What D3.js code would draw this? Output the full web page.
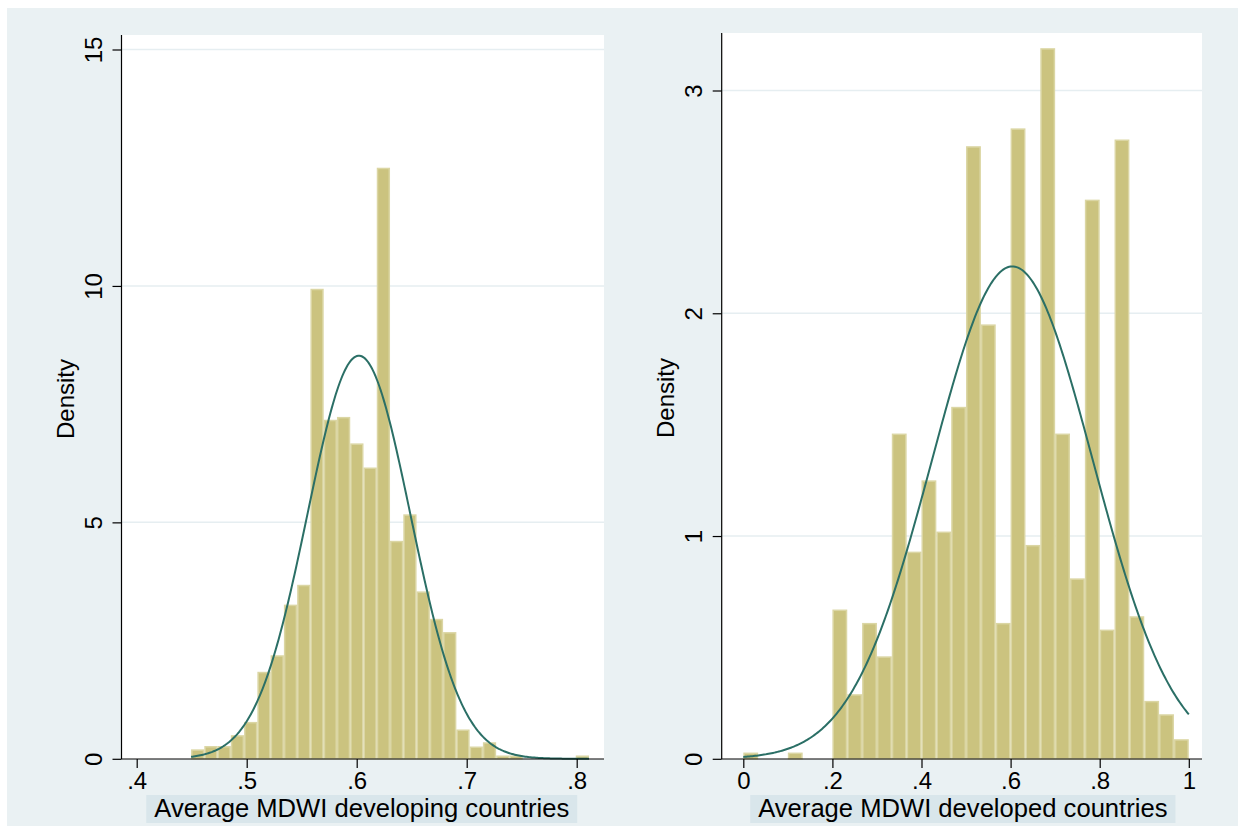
<!DOCTYPE html>
<html lang="en">
	<head>
		<meta charset="utf-8">
		<style type="text/css">
			html, body {
				width: 100%;
				height: 100%;
				padding: 0;
				margin: 0;
				background: #ffffff;
			}
			text {
				font-family: "Liberation Sans", Arial, Helvetica, sans-serif;
				fill: #000;
			}
		</style>
	</head>
	<body>
		<svg id="chart"></svg>
	<script src="https://cdn.jsdelivr.net/npm/d3@7"></script>
	<script>
		const width = 1245
		const height = 834

		// developing countries: 30 bins starting at .4494, width .01206
		const devBinStart = 0.4494
		const devBinWidth = 0.01206
		const devDensity = [0.20, 0.27, 0.27, 0.50, 0.78, 1.84, 2.19, 3.26, 3.68, 9.94,
			7.17, 7.23, 6.67, 6.16, 12.50, 4.61, 5.17, 3.54, 2.96, 2.68,
			0.62, 0.26, 0.35, 0.07, 0.07, 0, 0, 0, 0, 0.07]
		const devMean = 0.602
		const devSd = 0.0468
		const devXTicks = [0.4, 0.5, 0.6, 0.7, 0.8]
		const devYTicks = [0, 5, 10, 15]

		// developed countries: 30 bins of 1/30 from 0 to 1
		const dvdBinStart = 0
		const dvdBinWidth = 1 / 30
		const dvdDensity = [0.028, 0, 0, 0.028, 0, 0, 0.67, 0.29, 0.61, 0.46,
			1.46, 0.93, 1.25, 1.02, 1.58, 2.75, 1.95, 0.61, 2.83, 0.96,
			3.19, 1.46, 0.81, 2.51, 0.58, 2.78, 0.64, 0.26, 0.20, 0.088]
		const dvdMean = 0.604
		const dvdSd = 0.1805
		const dvdXTicks = [0, 0.2, 0.4, 0.6, 0.8, 1]
		const dvdYTicks = [0, 1, 2, 3]

		const bg = "#eaf1f3"
		const barFill = "#cbc37f"
		const barEdge = "#dbd6a4"
		const curveColor = "#2b6f66"

		const svg = d3.select("#chart")
			.attr("width", width)
			.attr("height", height)

		svg.append("rect")
			.attr("x", 7).attr("y", 8)
			.attr("width", width - 14).attr("height", height - 16)
			.attr("fill", bg)

		const fmt = v => v === 0 ? "0" : v === 1 ? "1" : String(v).replace(/^0/, "")

		function panel (p) {
			const x = d3.scaleLinear().domain(p.xDomain).range(p.xRange)
			const y = d3.scaleLinear().domain(p.yDomain).range(p.yRange)
			const g = svg.append("g")

			// plot region
			g.append("rect")
				.attr("x", p.left).attr("y", p.top)
				.attr("width", p.right - p.left).attr("height", p.bottom - p.top)
				.attr("fill", "#ffffff")

			// grid lines
			g.selectAll(".grid")
				.data(p.yTicks.filter(t => t > 0))
			.enter().append("line")
				.attr("x1", p.left).attr("x2", p.right)
				.attr("y1", d => y(d)).attr("y2", d => y(d))
				.attr("stroke", "#e6eef1")
				.attr("stroke-width", 1.5)

			// bars
			const bins = p.density.map((d, i) => ({
				x0: p.binStart + i * p.binWidth,
				x1: p.binStart + (i + 1) * p.binWidth,
				d: d
			})).filter(b => b.d > 0)

			g.selectAll(".bar")
				.data(bins)
			.enter().append("rect")
				.attr("x", b => x(b.x0) + 0.75)
				.attr("y", b => y(b.d) + 0.75)
				.attr("width", b => x(b.x1) - x(b.x0) - 1.5)
				.attr("height", b => Math.max(0, y(0) - y(b.d) - 0.75))
				.attr("fill", barFill)
				.attr("stroke", barEdge)
				.attr("stroke-width", 1.5)

			// normal density curve
			const lo = p.binStart
			const hi = p.binStart + p.density.length * p.binWidth
			const pts = d3.range(0, 301).map(i => lo + (hi - lo) * i / 300)
			const pdf = v => Math.exp(-0.5 * Math.pow((v - p.mean) / p.sd, 2)) / (p.sd * Math.sqrt(2 * Math.PI))
			g.append("path")
				.datum(pts)
				.attr("fill", "none")
				.attr("stroke", curveColor)
				.attr("stroke-width", 2)
				.attr("d", d3.line().x(v => x(v)).y(v => y(pdf(v))))

			// axes
			const xAxis = g.append("g")
				.attr("transform", `translate(0, ${p.bottom})`)
				.call(d3.axisBottom(x).tickValues(p.xTicks).tickFormat(fmt).tickSize(9).tickPadding(4))
			xAxis.select(".domain").remove()
			xAxis.selectAll("line").attr("stroke", "#000").attr("stroke-width", 1.2)
			xAxis.selectAll("text").attr("font-size", 24).attr("font-family", "Liberation Sans, Arial, sans-serif")

			g.append("line")
				.attr("x1", p.left).attr("x2", p.right)
				.attr("y1", p.bottom).attr("y2", p.bottom)
				.attr("stroke", "#000").attr("stroke-width", 1.2)

			const yAxis = g.append("g")
				.attr("transform", `translate(${p.left}, 0)`)
				.call(d3.axisLeft(y).tickValues(p.yTicks).tickSize(9).tickFormat(fmt))
			yAxis.select(".domain").remove()
			yAxis.selectAll("line").attr("stroke", "#000").attr("stroke-width", 1.2)
			yAxis.selectAll("text")
				.attr("font-size", 24)
				.attr("font-family", "Liberation Sans, Arial, sans-serif")
				.attr("text-anchor", "middle")
				.attr("x", null).attr("dy", null)
				.attr("transform", "translate(-20, 0) rotate(-90)")

			g.append("line")
				.attr("x1", p.left).attr("x2", p.left)
				.attr("y1", p.top).attr("y2", p.bottom)
				.attr("stroke", "#000").attr("stroke-width", 1.2)

			// y title
			g.append("text")
				.attr("transform", `translate(${p.left - 48}, ${(p.top + p.bottom) / 2 + 2}) rotate(-90)`)
				.attr("text-anchor", "middle")
				.attr("font-size", 24)
				.text("Density")

			// x title with box
			const tx = (p.left + p.right) / 2 + p.titleShift
			const box = g.append("rect")
			const t = g.append("text")
				.attr("x", tx).attr("y", 817)
				.attr("text-anchor", "middle")
				.attr("font-size", 25.6)
				.text(p.xTitle)
			const bb = t.node().getBBox()
			box.attr("x", bb.x - 8).attr("y", 795)
				.attr("width", bb.width + 16).attr("height", 28)
				.attr("fill", "#d9e6eb")
		}

		panel({
			left: 121.5, right: 604, top: 35, bottom: 759,
			xDomain: [0.4, 0.8], xRange: [136.7, 576.7],
			yDomain: [0, 15], yRange: [758.8, 49.5],
			xTicks: devXTicks, yTicks: devYTicks,
			density: devDensity, binStart: devBinStart, binWidth: devBinWidth,
			mean: devMean, sd: devSd,
			xTitle: "Average MDWI developing countries", titleShift: -1
		})

		panel({
			left: 721.7, right: 1202, top: 33, bottom: 759,
			xDomain: [0, 1], xRange: [743.3, 1188.8],
			yDomain: [0, 3], yRange: [758.8, 90.5],
			xTicks: dvdXTicks, yTicks: dvdYTicks,
			density: dvdDensity, binStart: dvdBinStart, binWidth: dvdBinWidth,
			mean: dvdMean, sd: dvdSd,
			xTitle: "Average MDWI developed countries", titleShift: 1
		})
	</script>
	</body>
</html>
